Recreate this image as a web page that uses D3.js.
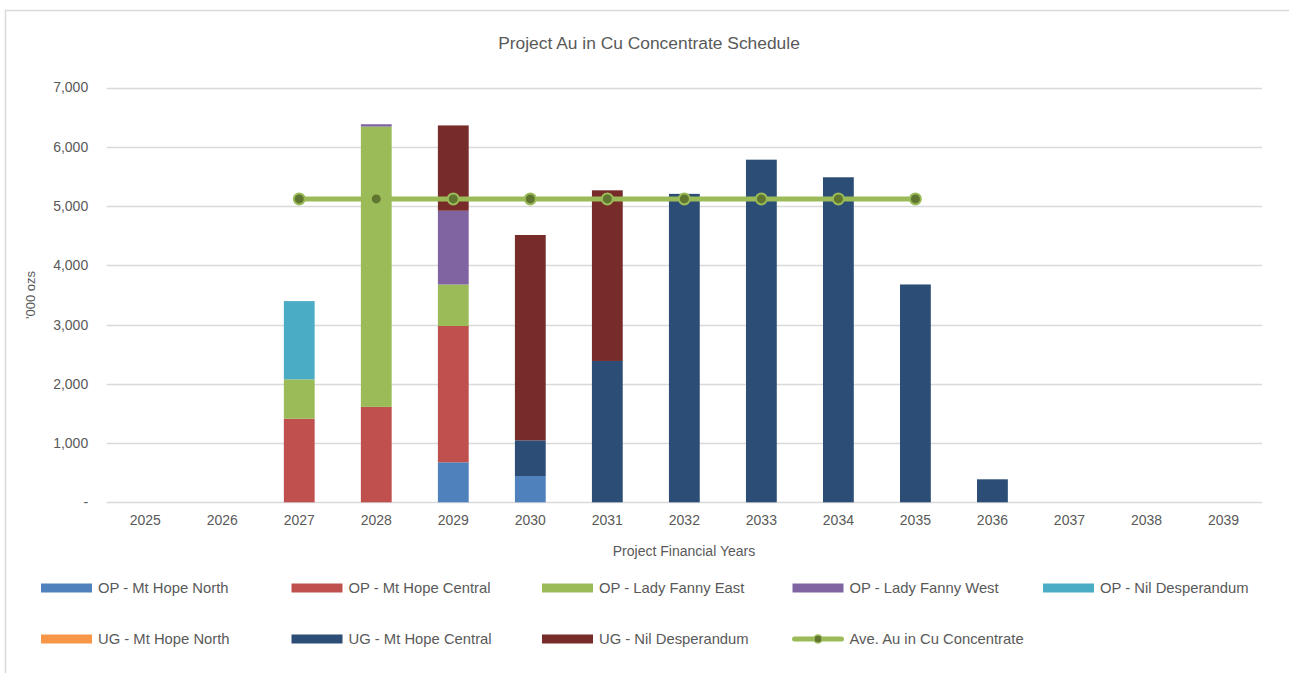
<!DOCTYPE html>
<html>
<head>
<meta charset="utf-8">
<script src="https://cdn.jsdelivr.net/npm/d3@7"></script>
<style>
	body { margin: 0; background: #fff; }
	text { font-family: "Liberation Sans", Arial, sans-serif; fill: #595959; }
</style>
</head>
<body>
<div id="chart"></div>
<script>
const years = ["2025", "2026", "2027", "2028", "2029", "2030", "2031", "2032", "2033", "2034", "2035", "2036", "2037", "2038", "2039"]

const seriesNames = ["OP - Mt Hope North", "OP - Mt Hope Central", "OP - Lady Fanny East", "OP - Lady Fanny West", "OP - Nil Desperandum", "UG - Mt Hope North", "UG - Mt Hope Central", "UG - Nil Desperandum"]
const seriesColors = ["#4F81BD", "#C0504D", "#9BBB59", "#8064A2", "#4BACC6", "#F79646", "#2C4D75", "#772C2A"]

// '000 ozs per year
const opMtHopeNorth   = [0, 0, 0, 0, 675, 444, 0, 0, 0, 0, 0, 0, 0, 0, 0]
const opMtHopeCentral = [0, 0, 1410, 1610, 2300, 0, 0, 0, 0, 0, 0, 0, 0, 0, 0]
const opLadyFannyEast = [0, 0, 665, 4730, 700, 0, 0, 0, 0, 0, 0, 0, 0, 0, 0]
const opLadyFannyWest = [0, 0, 0, 40, 1245, 0, 0, 0, 0, 0, 0, 0, 0, 0, 0]
const opNilDesp       = [0, 0, 1320, 0, 0, 0, 0, 0, 0, 0, 0, 0, 0, 0, 0]
const ugMtHopeNorth   = [0, 0, 0, 0, 0, 0, 0, 0, 0, 0, 0, 0, 0, 0, 0]
const ugMtHopeCentral = [0, 0, 0, 0, 0, 602, 2385, 5205, 5782, 5485, 3676, 388, 0, 0, 0]
const ugNilDesp       = [0, 0, 0, 0, 1440, 3465, 2880, 0, 0, 0, 0, 0, 0, 0, 0]

const aveAu = [null, null, 5120, 5120, 5120, 5120, 5120, 5120, 5120, 5120, 5120, null, null, null, null]

const yTicks = [0, 1000, 2000, 3000, 4000, 5000, 6000, 7000]

const allSeries = [opMtHopeNorth, opMtHopeCentral, opLadyFannyEast, opLadyFannyWest, opNilDesp, ugMtHopeNorth, ugMtHopeCentral, ugNilDesp]

const W = 1289, H = 673
const svg = d3.select("#chart").append("svg").attr("width", W).attr("height", H)

// chart area border
svg.append("rect")
	.attr("x", 5.5).attr("y", 10.5)
	.attr("width", W + 10).attr("height", H + 10)
	.attr("fill", "#fff").attr("stroke", "#d9d9d9").attr("stroke-width", 1.5)

const x = d3.scaleBand().domain(years).range([106.7, 1262]).paddingInner(0.6).paddingOuter(0.3)
const y = d3.scaleLinear().domain([0, 7000]).range([502.3, 87.5])

// gridlines
svg.append("g")
	.selectAll("line")
	.data(yTicks)
	.enter()
	.append("line")
	.attr("x1", 106.7).attr("x2", 1262)
	.attr("y1", (d) => Math.round(y(d)) + 0.5)
	.attr("y2", (d) => Math.round(y(d)) + 0.5)
	.attr("stroke", "#d9d9d9").attr("stroke-width", 1.5)

// y axis labels
const yAxis = d3.axisLeft(y).tickValues(yTicks).tickSize(0).tickPadding(18.5)
	.tickFormat((d) => d == 0 ? "-" : d3.format(",")(d))
svg.append("g").attr("transform", "translate(106.7,0)").call(yAxis)
	.call((g) => g.select(".domain").remove())
	.selectAll("text").style("font-size", "14px").attr("fill", "#595959")

// x axis labels
const xAxis = d3.axisBottom(x).tickSize(0).tickPadding(13)
svg.append("g").attr("transform", "translate(0,502.3)").call(xAxis)
	.call((g) => g.select(".domain").remove())
	.selectAll("text").style("font-size", "14px").attr("fill", "#595959")

// stacked bars
const rows = years.map((yr, i) => {
	const row = { year: yr }
	seriesNames.forEach((s, k) => { row[s] = allSeries[k][i] })
	return row
})
const stacked = d3.stack().keys(seriesNames)(rows)

svg.append("g")
	.selectAll("g")
	.data(stacked)
	.enter()
	.append("g")
	.attr("fill", (d, i) => seriesColors[i])
	.selectAll("rect")
	.data((d) => d.filter((p) => p[1] - p[0] > 0))
	.enter()
	.append("rect")
	.attr("x", (d) => x(d.data.year))
	.attr("width", x.bandwidth())
	.attr("y", (d) => y(d[1]))
	.attr("height", (d) => y(d[0]) - y(d[1]))

// average line
const lineData = years.map((yr, i) => ({ year: yr, v: aveAu[i] })).filter((d) => d.v != null)
const line = d3.line()
	.x((d) => x(d.year) + x.bandwidth() / 2)
	.y((d) => y(d.v))
svg.append("path")
	.datum(lineData)
	.attr("d", line)
	.attr("fill", "none")
	.attr("stroke", "#9BBB59")
	.attr("stroke-width", 5)
	.attr("stroke-linecap", "round")
svg.append("g")
	.selectAll("circle")
	.data(lineData)
	.enter()
	.append("circle")
	.attr("cx", (d) => x(d.year) + x.bandwidth() / 2)
	.attr("cy", (d) => y(d.v))
	.attr("r", 5.5)
	.attr("fill", "#5F7530")
	.attr("stroke", "#9BBB59")
	.attr("stroke-width", 2)

// titles
svg.append("text")
	.attr("x", 649).attr("y", 49)
	.attr("text-anchor", "middle")
	.style("font-size", "17.4px")
	.text("Project Au in Cu Concentrate Schedule")

svg.append("text")
	.attr("x", 684).attr("y", 555.5)
	.attr("text-anchor", "middle")
	.style("font-size", "14px")
	.text("Project Financial Years")

svg.append("text")
	.attr("transform", "translate(35,295) rotate(-90)")
	.attr("text-anchor", "middle")
	.style("font-size", "13px")
	.text("'000 ozs")

// legend
const legendItems = seriesNames.map((s, i) => ({ name: s, color: seriesColors[i], type: "bar" }))
legendItems.push({ name: "Ave. Au in Cu Concentrate", color: "#9BBB59", type: "line" })

const legend = svg.append("g")
	.selectAll("g")
	.data(legendItems)
	.enter()
	.append("g")
	.attr("transform", (d, i) => {
		const col = i < 5 ? i : i - 5
		const row = i < 5 ? 0 : 1
		return `translate(${41 + col * 250.5},${588 + row * 51})`
	})

legend.filter((d) => d.type == "bar")
	.append("rect")
	.attr("x", 0).attr("y", -4.5)
	.attr("width", 51).attr("height", 9)
	.attr("fill", (d) => d.color)

const lineItem = legend.filter((d) => d.type == "line")
lineItem.append("line")
	.attr("x1", 2).attr("x2", 49).attr("y1", 0).attr("y2", 0)
	.attr("stroke", "#9BBB59").attr("stroke-width", 5).attr("stroke-linecap", "round")
lineItem.append("circle")
	.attr("cx", 25.5).attr("cy", 0).attr("r", 4)
	.attr("fill", "#5F7530").attr("stroke", "#9BBB59").attr("stroke-width", 1.5)

legend.append("text")
	.attr("x", 57).attr("y", 5)
	.style("font-size", "14.8px")
	.text((d) => d.name)
</script>
</body>
</html>
